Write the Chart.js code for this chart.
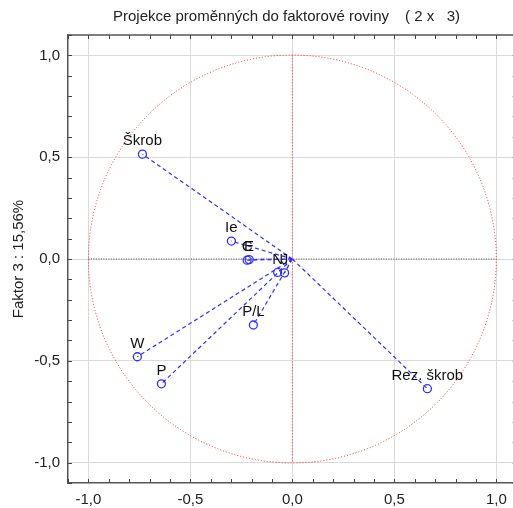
<!DOCTYPE html>
<html>
<head>
<meta charset="utf-8">
<script src="https://cdn.jsdelivr.net/npm/chart.js@4/dist/chart.umd.min.js"></script>
<style>
  html, body { margin: 0; padding: 0; background: #fff; overflow: hidden; }
  canvas { display: block; }
</style>
</head>
<body>
<canvas id="c" width="522" height="508" style="width:522px;height:508px"></canvas>
<script>
// Variables projected onto the factor plane (factor 2 vs factor 3)
const variables = ['Škrob', 'Ie', 'C', 'E', 'N', 'J', 'P/L', 'W', 'P', 'Rez. škrob'];
const factor2 = [-0.735, -0.299, -0.222, -0.212, -0.072, -0.038, -0.191, -0.760, -0.642, 0.662];
const factor3 = [0.515, 0.088, -0.006, -0.003, -0.066, -0.068, -0.324, -0.480, -0.613, -0.637];

const xTickValues = [-1.0, -0.5, 0.0, 0.5, 1.0];
const yTickValues = [-1.0, -0.5, 0.0, 0.5, 1.0];

const titleMain = 'Projekce proměnných do faktorové roviny';
const titleCase = '( 2 x   3)';
const yTitleText = 'Faktor 3 : 15,56%';

const FONT = '"Liberation Sans", Arial, sans-serif';
const BLUE = '#2f2fff';

const points = variables.map((name, i) => ({ x: factor2[i], y: factor3[i] }));

// vectors from the origin to every variable, separated by gaps
const vectors = [];
points.forEach(p => {
  vectors.push({ x: 0, y: 0 }, { x: p.x, y: p.y }, { x: NaN, y: NaN });
});

const fmt = v => (Math.round(v * 10) / 10).toFixed(1).replace('.', ',');

const framePlugin = {
  id: 'frame',
  beforeDatasetsDraw(chart) {
    const { ctx, scales: { x, y } } = chart;
    const cx = x.getPixelForValue(0), cy = y.getPixelForValue(0);
    const r = x.getPixelForValue(1) - cx;
    ctx.save();
    // unit circle
    ctx.strokeStyle = '#ff2020';
    ctx.lineWidth = 1;
    ctx.setLineDash([1, 2]);
    ctx.beginPath();
    ctx.arc(cx, cy, r, 0, Math.PI * 2);
    ctx.stroke();
    // vertical axis through origin
    ctx.beginPath();
    ctx.moveTo(cx, y.getPixelForValue(1));
    ctx.lineTo(cx, y.getPixelForValue(-1));
    ctx.stroke();
    // horizontal axis through origin
    ctx.strokeStyle = '#222';
    ctx.setLineDash([1, 1.5]);
    ctx.lineWidth = 0.8;
    ctx.beginPath();
    ctx.moveTo(x.getPixelForValue(-1), cy);
    ctx.lineTo(x.getPixelForValue(1), cy);
    ctx.stroke();
    ctx.restore();
  },
  afterDraw(chart) {
    const { ctx, chartArea: a, scales: { x, y } } = chart;
    ctx.save();
    ctx.strokeStyle = '#555';
    ctx.lineWidth = 1.5;
    ctx.beginPath();
    ctx.moveTo(a.left, a.top);
    ctx.lineTo(a.right, a.top);
    ctx.lineTo(a.right, a.bottom);
    ctx.stroke();
    // inward minor ticks every 0.1
    ctx.lineWidth = 1;
    ctx.strokeStyle = '#444';
    const len = 4;
    for (let k = -11; k <= 11; k++) {
      const v = k / 10;
      const px = Math.round(x.getPixelForValue(v)) + 0.5;
      const py = Math.round(y.getPixelForValue(v)) + 0.5;
      ctx.beginPath();
      ctx.moveTo(px, a.bottom); ctx.lineTo(px, a.bottom - len);
      ctx.moveTo(px, a.top); ctx.lineTo(px, a.top + len);
      ctx.moveTo(a.left, py); ctx.lineTo(a.left + len, py);
      ctx.moveTo(a.right, py); ctx.lineTo(a.right - len, py);
      ctx.stroke();
    }
    // title
    ctx.fillStyle = '#222';
    ctx.font = '15px ' + FONT;
    ctx.textAlign = 'left';
    ctx.textBaseline = 'middle';
    ctx.fillText(titleMain, a.left + 45, 17);
    ctx.fillText(titleCase, a.left + 337, 17);
    ctx.restore();
  },
  afterDatasetsDraw(chart) {
    const { ctx } = chart;
    const meta = chart.getDatasetMeta(1);
    ctx.save();
    ctx.fillStyle = '#111';
    ctx.font = '15px ' + FONT;
    ctx.textAlign = 'center';
    ctx.textBaseline = 'middle';
    meta.data.forEach((el, i) => {
      ctx.fillText(variables[i], el.x, el.y - 13);
    });
    ctx.restore();
  }
};

new Chart(document.getElementById('c'), {
  type: 'scatter',
  data: {
    datasets: [
      {
        data: vectors,
        showLine: true,
        spanGaps: false,
        borderColor: BLUE,
        borderWidth: 1.2,
        borderDash: [4, 3],
        pointRadius: 0,
        pointHoverRadius: 0
      },
      {
        data: points,
        showLine: false,
        pointStyle: 'circle',
        pointRadius: 4,
        pointBorderWidth: 1.3,
        pointBorderColor: BLUE,
        pointBackgroundColor: 'rgba(0,0,0,0)'
      }
    ]
  },
  plugins: [framePlugin],
  options: {
    responsive: false,
    animation: false,
    events: [],
    layout: { padding: { top: 35, left: 0, right: 0, bottom: 0 } },
    plugins: { legend: { display: false }, tooltip: { enabled: false }, title: { display: false } },
    scales: {
      x: {
        type: 'linear',
        position: 'bottom',
        min: -1.1,
        max: 1.1,
        afterFit: s => { s.height = 25; },
        afterBuildTicks: s => { s.ticks = xTickValues.map(v => ({ value: v })); },
        ticks: {
          callback: v => fmt(v),
          font: { family: FONT, size: 15 },
          color: '#222',
          padding: 8,
          maxRotation: 0,
          autoSkip: false
        },
        grid: { color: '#dadada', lineWidth: 1, drawTicks: false },
        border: { color: '#555', width: 1.5 }
      },
      y: {
        type: 'linear',
        position: 'left',
        min: -1.1,
        max: 1.1,
        afterFit: s => { s.width = 68; },
        afterBuildTicks: s => { s.ticks = yTickValues.map(v => ({ value: v })); },
        ticks: {
          callback: v => fmt(v),
          font: { family: FONT, size: 15 },
          color: '#222',
          padding: 8,
          autoSkip: false
        },
        title: {
          display: true,
          text: yTitleText,
          font: { family: FONT, size: 15 },
          color: '#222',
          padding: { top: 10, bottom: 0 }
        },
        grid: { color: '#dadada', lineWidth: 1, drawTicks: false },
        border: { color: '#555', width: 1.5 }
      }
    }
  }
});
</script>
</body>
</html>
